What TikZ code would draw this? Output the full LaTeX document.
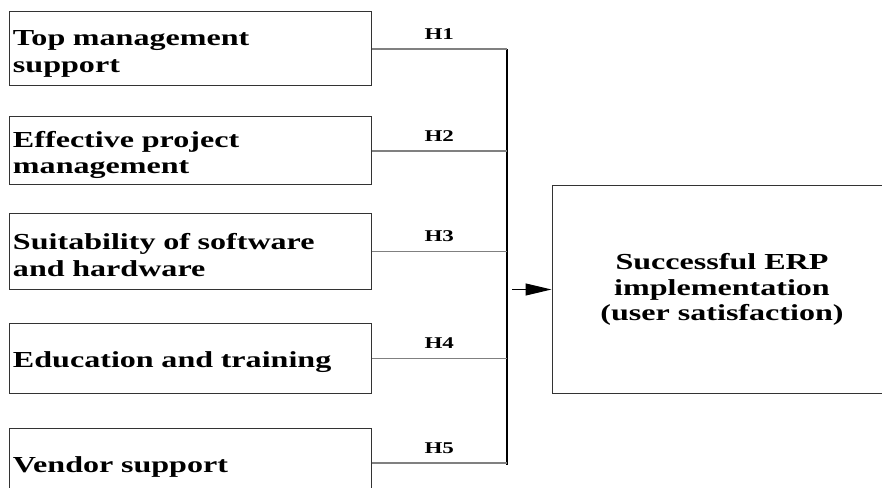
\documentclass[tikz,border=0pt]{standalone}
\usepackage{fontspec}
\newfontfamily\diagfont{Liberation Serif}[FakeStretch=1.4]
\usetikzlibrary{arrows.meta}
\definecolor{boxline}{gray}{0.2}
\definecolor{linkline}{gray}{0.5}

\begin{document}
\begin{tikzpicture}
[x=1bp,y=-1bp,
  factordecorate/.style={shape=rectangle,draw=boxline,line width=1bp,
    inner xsep=3bp,inner ysep=0pt,text width=355bp,text height=24bp,align=left,
    font={\diagfont\bfseries\fontsize{23}{27}\selectfont}},
  outcomedecorate/.style={shape=rectangle,draw=boxline,line width=1bp,
    minimum width=340bp,minimum height=207bp,align=center,
    font={\diagfont\bfseries\fontsize{23}{25.5}\selectfont}},
  labeldecorate/.style={inner sep=0pt,
    font={\diagfont\bfseries\fontsize{16.5}{18}\selectfont}},
  linkdecorate/.style={-,draw=linkline,line width=1.2bp},
  busdecorate/.style={-,draw=black,line width=1.2bp},
  arrowdecorate/.style={-{Triangle[length=26bp,width=12bp]},line width=1bp}]
\useasboundingbox (0,0) rectangle (882,488);
%% factor boxes
\foreach \nodename/\y/\h/\txt in {
  tms/49/74/{Top management\\support},
  epm/151/68/{Effective project\\management},
  ssh/251.5/75/{Suitability of software\\and hardware},
  edu/358.5/69/{Education and training},
  ven/463/70/{Vendor support}}
{
  \node (\nodename) at (190.5,\y) [factordecorate,minimum height=\h bp] {\txt};
}
%% outcome box
\node (erp) at (722,289.5) [outcomedecorate]
  {Successful ERP\\implementation\\(user satisfaction)};
%% bus and links
\coordinate (bustop) at (507,49);
\coordinate (busend) at (507,465);
\draw[busdecorate] (bustop) -- (busend);
\foreach \nodename/\hyp in {tms/H1, epm/H2, ssh/H3, edu/H4, ven/H5}
{
  \draw[linkdecorate] (\nodename.east) -- (\nodename.east -| bustop)
    node[midway,above=9bp,labeldecorate] {\hyp};
}
\coordinate (arrowtail) at (512,289.5);
\draw[arrowdecorate] (arrowtail) -- (erp.west);
\end{tikzpicture}
\end{document}
